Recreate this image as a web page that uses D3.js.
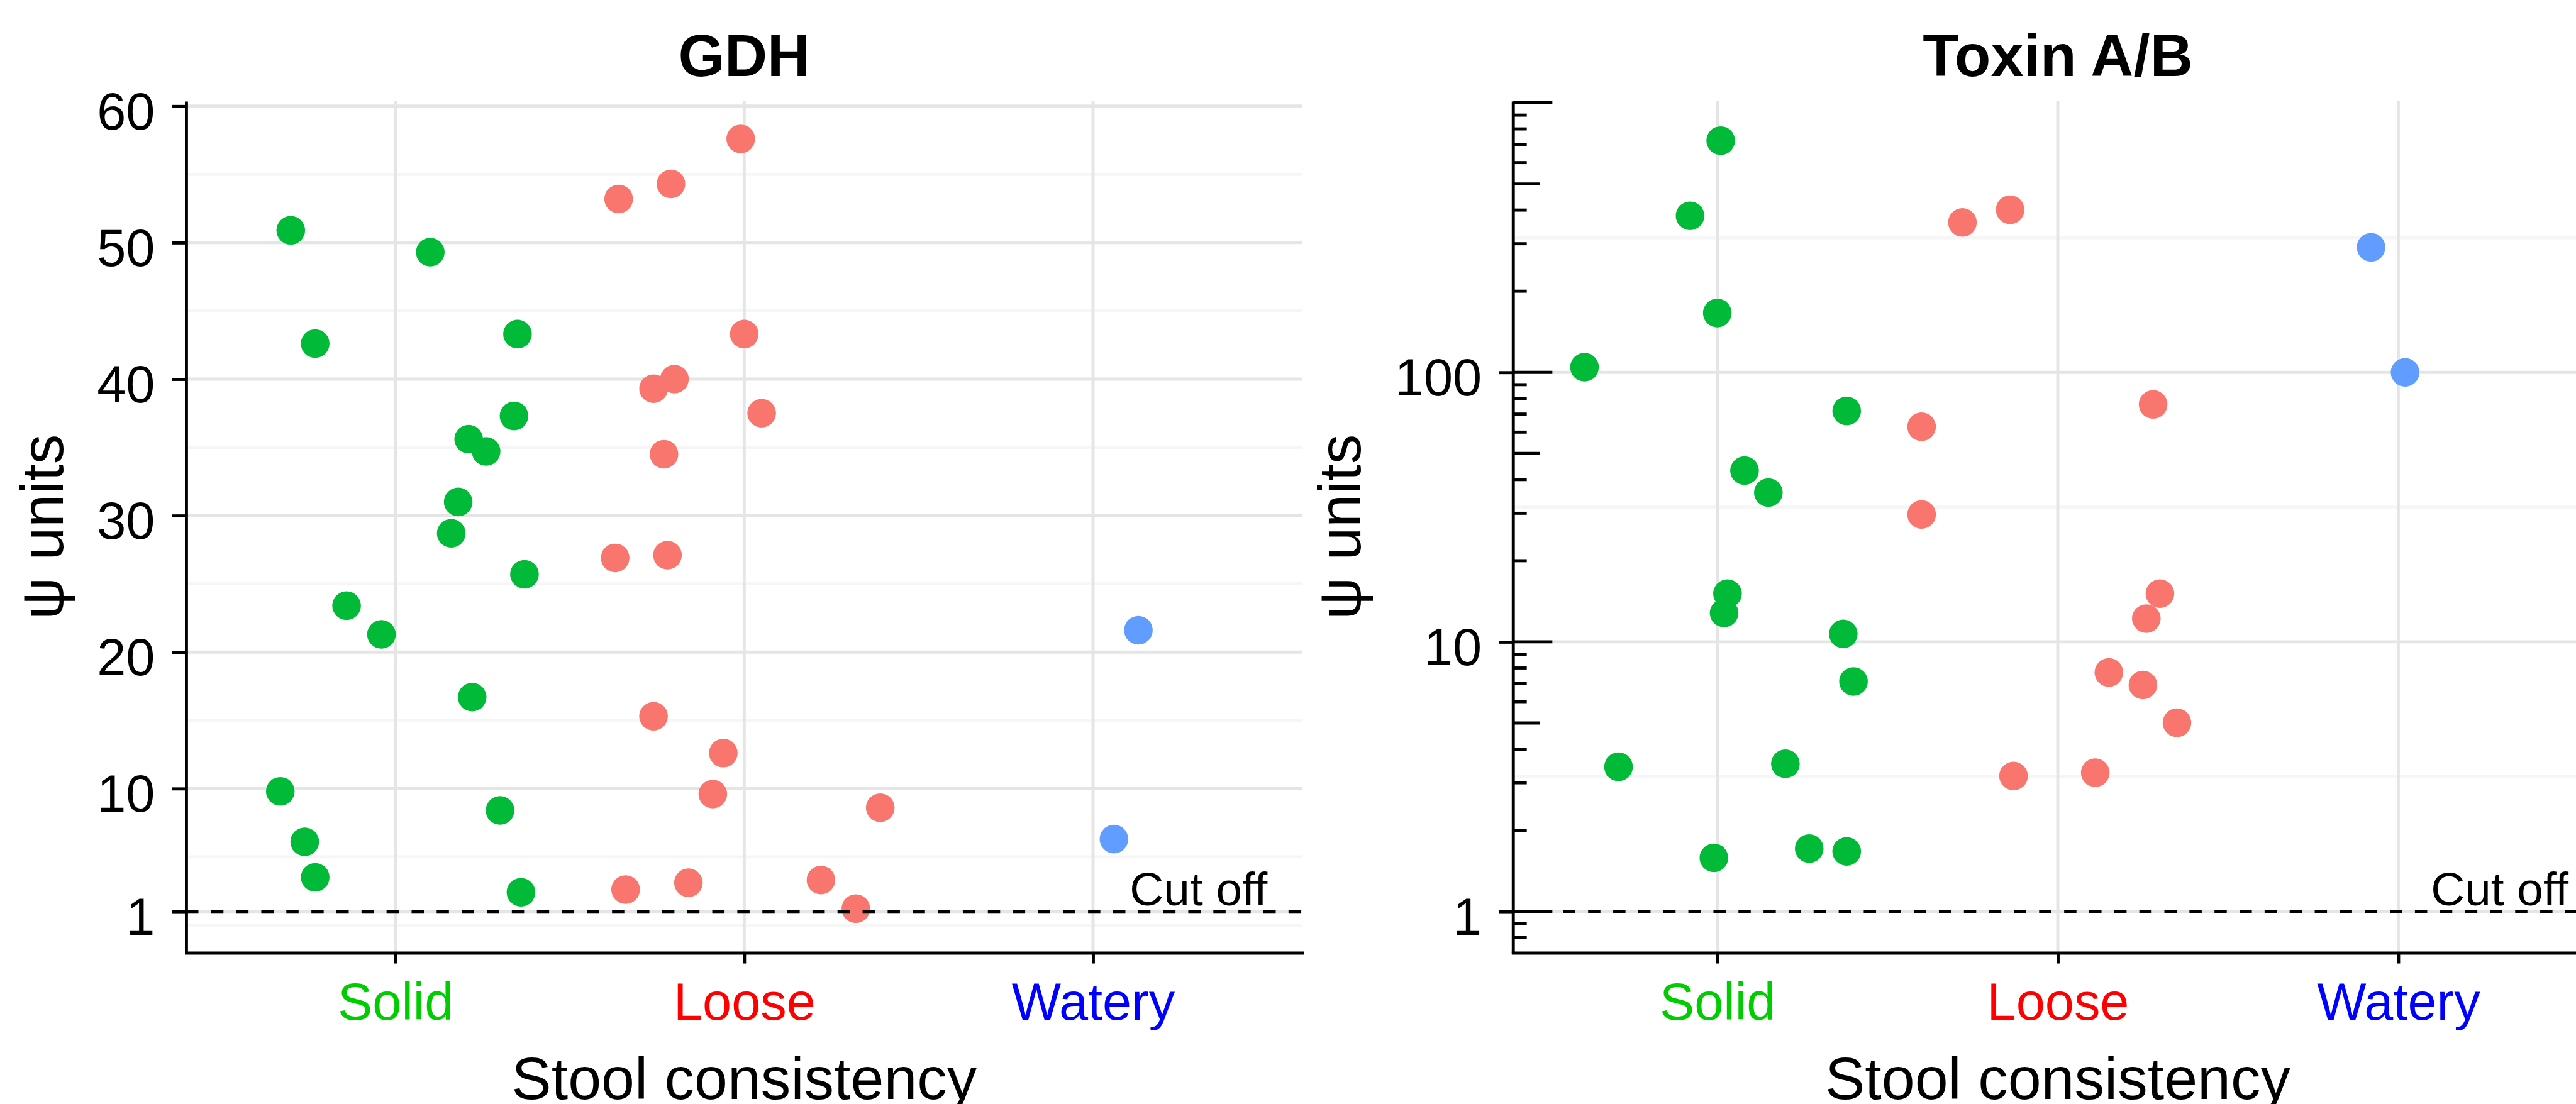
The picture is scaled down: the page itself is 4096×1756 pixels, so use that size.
<!DOCTYPE html>
<html>
<head>
<meta charset="utf-8">
<script src="https://cdn.jsdelivr.net/npm/d3@7"></script>
<style>
  body { margin: 0; background: #fff; }
  svg text { font-family: "Liberation Sans", Arial, sans-serif; }
</style>
</head>
<body>
<svg id="chart"></svg>
<script>

////////////////////////////////////////////////////
// Data
var categories = ["Solid", "Loose", "Watery"];
var labelColors = ["#00CD00", "#FF0000", "#0000FF"];
var pointColors = ["#00BA38", "#F8766D", "#619CFF"];

// GDH panel (linear)
var gdhGroup = [
  "Solid","Solid","Solid","Solid","Solid","Solid","Solid","Solid","Solid",
  "Solid","Solid","Solid","Solid","Solid","Solid","Solid","Solid","Solid",
  "Loose","Loose","Loose","Loose","Loose","Loose","Loose","Loose","Loose",
  "Loose","Loose","Loose","Loose","Loose","Loose","Loose","Loose","Loose",
  "Watery","Watery"];
var gdhValue = [
  50.9, 49.3, 42.6, 43.3, 37.3, 35.6, 34.7, 31.0, 28.7,
  25.7, 23.4, 21.3, 16.7, 9.8, 8.4, 6.1, 3.5, 2.4,
  57.6, 54.3, 53.2, 43.3, 40.0, 39.3, 37.5, 34.5, 26.9,
  27.1, 15.3, 12.6, 9.6, 8.6, 3.3, 3.1, 2.6, 1.2,
  21.6, 6.3];
var gdhJitter = [
  -0.30, 0.10, -0.23, 0.35, 0.34, 0.21, 0.26, 0.18, 0.16,
  0.37, -0.14, -0.04, 0.22, -0.33, 0.30, -0.26, -0.23, 0.36,
  -0.01, -0.21, -0.36, 0.00, -0.20, -0.26, 0.05, -0.23, -0.37,
  -0.22, -0.26, -0.06, -0.09, 0.39, 0.22, -0.16, -0.34, 0.32,
  0.13, 0.06];
var gdhTicks = [1, 10, 20, 30, 40, 50, 60];
var gdhMinor = [0, 5, 15, 25, 35, 45, 55];

// Toxin A/B panel (log)
var toxinGroup = [
  "Solid","Solid","Solid","Solid","Solid","Solid","Solid","Solid",
  "Solid","Solid","Solid","Solid","Solid","Solid","Solid","Solid",
  "Loose","Loose","Loose","Loose","Loose","Loose",
  "Loose","Loose","Loose","Loose","Loose","Loose",
  "Watery","Watery"];
var toxinValue = [
  724, 381, 166, 104.5, 71.9, 43.2, 35.8, 15.1,
  12.8, 10.7, 7.13, 3.44, 3.53, 1.58, 1.71, 1.67,
  360, 401, 76.0, 62.8, 29.7, 15.1,
  12.2, 7.70, 6.92, 5.01, 3.18, 3.27,
  291, 100];
var toxinJitter = [
  0.01, -0.08, 0.00, -0.39, 0.38, 0.08, 0.15, 0.03,
  0.02, 0.37, 0.40, -0.29, 0.20, -0.01, 0.27, 0.38,
  -0.28, -0.14, 0.28, -0.40, -0.40, 0.30,
  0.26, 0.15, 0.25, 0.35, -0.13, 0.11,
  -0.08, 0.02];
var toxinTicks = [1, 10, 100];
var toxinMinor = [3.16, 31.6, 316];

////////////////////////////////////////////////////
// Size setup (layout measured on the 5038px reference, scaled down)
var K = 4096 / 5038;
var W = 4096, H = 1756;
var panelTop = 198, panelBottom = 1864;

var svg = d3.select("#chart")
    .attr("width", W)
    .attr("height", H)
    .style("background", "#fff");

var gdhY = d3.scaleLinear()
    .domain([-2.03, 60.36])
    .range([panelBottom * K, panelTop * K]);

var toxinY = d3.scaleLog()
    .domain([0.7022, 1013.7])
    .range([panelBottom * K, panelTop * K]);

function drawPanel(p) {
  var x = d3.scalePoint()
      .domain(categories)
      .range([p.x0 * K, p.x1 * K])
      .padding(0.6);
  var step = x.step();
  var y = p.y;

  var g = svg.append("g");

  // minor grid
  g.selectAll(".minor")
    .data(p.minor)
    .enter().append("line")
      .attr("x1", p.x0 * K).attr("x2", p.x1 * K)
      .attr("y1", d => y(d)).attr("y2", d => y(d))
      .attr("stroke", "#F6F6F6")
      .attr("stroke-width", 6 * K);

  // major grid
  g.selectAll(".hgrid")
    .data(p.ticks)
    .enter().append("line")
      .attr("x1", p.x0 * K).attr("x2", p.x1 * K)
      .attr("y1", d => y(d)).attr("y2", d => y(d))
      .attr("stroke", "#E5E5E5")
      .attr("stroke-width", 6 * K);

  g.selectAll(".vgrid")
    .data(categories)
    .enter().append("line")
      .attr("x1", d => x(d)).attr("x2", d => x(d))
      .attr("y1", panelTop * K).attr("y2", panelBottom * K)
      .attr("stroke", "#E5E5E5")
      .attr("stroke-width", 6 * K);

  // points
  g.selectAll("circle")
    .data(d3.range(p.value.length))
    .enter().append("circle")
      .attr("cx", i => x(p.group[i]) + p.jitter[i] * step)
      .attr("cy", i => y(p.value[i]))
      .attr("r", 28 * K)
      .attr("fill", i => pointColors[categories.indexOf(p.group[i])]);

  // cut off line
  g.append("line")
    .attr("x1", p.x0 * K).attr("x2", p.x1 * K)
    .attr("y1", y(1)).attr("y2", y(1))
    .attr("stroke", "#000")
    .attr("stroke-width", 6 * K)
    .attr("stroke-dasharray", (24 * K) + "," + (25 * K));

  g.append("text")
    .text("Cut off")
    .attr("x", x("Watery") + 0.5 * step)
    .attr("y", y(1) - 12 * K)
    .attr("text-anchor", "end")
    .attr("font-size", 92 * K)
    .attr("fill", "#000");

  // log ticks
  if (p.log) {
    var lt = [];
    [0.1, 1, 10, 100, 1000].forEach(function(dec) {
      for (var m = 1; m <= 9; m++) {
        var v = dec * m;
        if (v >= y.domain()[0] && v <= y.domain()[1] * 1.001) {
          lt.push({ v: v, len: m === 1 ? 77 : (m === 5 ? 52 : 27) });
        }
      }
    });
    g.selectAll(".logtick")
      .data(lt)
      .enter().append("line")
        .attr("x1", p.x0 * K).attr("x2", d => (p.x0 + d.len) * K)
        .attr("y1", d => y(d.v)).attr("y2", d => y(d.v))
        .attr("stroke", "#000")
        .attr("stroke-width", 6 * K);
  }

  // axes
  var yAxis = d3.axisLeft(y)
      .tickValues(p.ticks)
      .tickFormat(d3.format("d"))
      .tickSize(27 * K)
      .tickPadding(34 * K)
      .tickSizeOuter(0);

  var ya = g.append("g")
      .attr("transform", "translate(" + (p.x0 * K) + ",0)")
      .call(yAxis);
  ya.selectAll("line, path").attr("stroke", "#000").attr("stroke-width", 6 * K);
  ya.selectAll("text")
    .attr("dy", "0.44em")
    .attr("font-size", 102 * K)
    .attr("fill", "#000");

  var xAxis = d3.axisBottom(x)
      .tickSize(21 * K)
      .tickPadding(38 * K)
      .tickSizeOuter(0);

  var xa = g.append("g")
      .attr("transform", "translate(0," + (panelBottom * K) + ")")
      .call(xAxis);
  xa.selectAll("line, path").attr("stroke", "#000").attr("stroke-width", 6 * K);
  xa.select("path").attr("stroke-linecap", "square");
  xa.selectAll("text")
    .attr("font-size", 102 * K)
    .attr("fill", d => labelColors[categories.indexOf(d)]);

  // titles
  var cx = (p.x0 + p.x1) / 2 * K;

  g.append("text")
    .text(p.title)
    .attr("x", cx)
    .attr("y", 149 * K)
    .attr("text-anchor", "middle")
    .attr("font-weight", "bold")
    .attr("font-size", 116 * K)
    .attr("fill", "#000");

  g.append("text")
    .text("Stool consistency")
    .attr("x", cx)
    .attr("y", 2150 * K)
    .attr("text-anchor", "middle")
    .attr("font-size", 117 * K)
    .attr("fill", "#000");

  var labelLeft = p.x0 * K + ya.node().getBBox().x;
  g.append("text")
    .text("\u03C8 units")
    .attr("transform", "translate(" + (labelLeft - 67 * K) + "," + ((panelTop + panelBottom) / 2 * K) + ") rotate(-90)")
    .attr("text-anchor", "middle")
    .attr("font-size", 117 * K)
    .attr("fill", "#000");
}

drawPanel({
  title: "GDH", x0: 364, x1: 2547, y: gdhY,
  ticks: gdhTicks, minor: gdhMinor,
  group: gdhGroup, value: gdhValue, jitter: gdhJitter, log: false
});

drawPanel({
  title: "Toxin A/B", x0: 2959, x1: 5090, y: toxinY,
  ticks: toxinTicks, minor: toxinMinor,
  group: toxinGroup, value: toxinValue, jitter: toxinJitter, log: true
});

</script>
</body>
</html>
